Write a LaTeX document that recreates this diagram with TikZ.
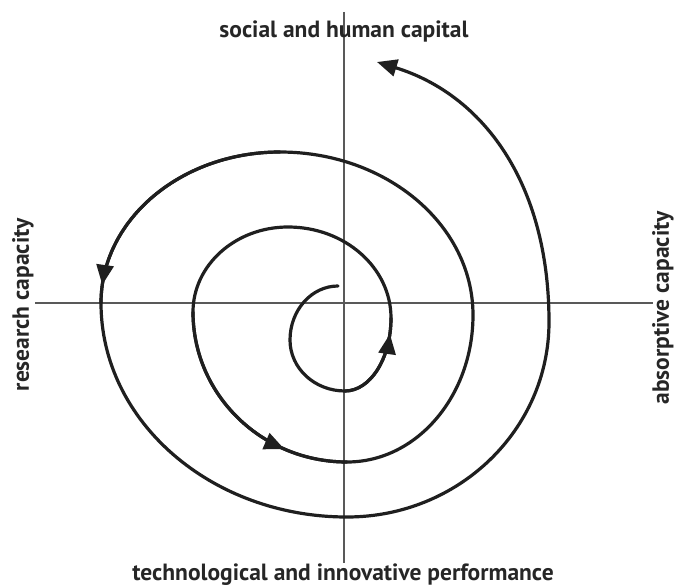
\documentclass[tikz,border=0pt]{standalone}
\usepackage{fontspec}
\setmainfont{PT Sans}
\usetikzlibrary{arrows.meta,decorations.markings}
\begin{document}
\begin{tikzpicture}[x=1pt,y=-1pt,
  spiral/.style={line width=3.2pt, draw=black!88, line join=round, line cap=round},
  axisline/.style={line width=1.1pt, draw=black!65},
  lbl/.style={font=\bfseries\fontsize{23.5}{26}\selectfont, text=black!85, inner sep=0pt},
  tipend/.style={-{Triangle[length=20pt,width=17pt]}},
  arrmark/.style={postaction={decorate, decoration={markings,
     mark=at position #1 with {\arrow{Triangle[length=20pt,width=17pt]}}}}}]
\useasboundingbox (0,0) rectangle (678,586);
% axes
\coordinate (vt) at (344,12);
\coordinate (vb) at (344,563);
\coordinate (hl) at (35,303);
\coordinate (hr) at (653,303);
\draw[axisline] (vt) -- (vb);
\draw[axisline] (hl) -- (hr);
% spiral key points
\coordinate (T0) at (338,286);
\coordinate (L0) at (290,340);
\coordinate (B0) at (345,391);
\coordinate (R0) at (391,318);
\coordinate (T1) at (288,227);
\coordinate (L1) at (193,312);
\coordinate (B1) at (347,462);
\coordinate (R1) at (473,315);
\coordinate (T2) at (280,152);
\coordinate (L2) at (101,303);
\coordinate (B2) at (347,517);
\coordinate (R2) at (549,322);
\coordinate (E) at (377,62);
\draw[spiral, tipend] (T0)
  .. controls (311.5,286) and (290,310.2) .. (L0)
  .. controls (290,368.2) and (314.6,391) .. (B0)
  .. controls (370.4,391) and (391,358.3) .. (R0)
  .. controls (391,267.7) and (344.9,227) .. (T1)
  .. controls (235.5,227) and (193,265.1) .. (L1)
  .. controls (193,394.8) and (261.9,462) .. (B1)
  .. controls (416.6,462) and (473,396.2) .. (R1)
  .. controls (473,225.0) and (386.6,152) .. (T2)
  .. controls (181.1,152) and (101,219.6) .. (L2)
  .. controls (101,421.2) and (211.1,517) .. (B2)
  .. controls (458.6,517) and (549,429.7) .. (R2)
  .. controls (549,182) and (482.2,94.3) .. (E);
% mid-path arrowheads
\draw[spiral, arrmark=0.83] (B0) .. controls (370.4,391) and (391,358.3) .. (R0);
\draw[spiral, arrmark=0.73] (L1) .. controls (193,394.8) and (261.9,462) .. (B1);
\draw[spiral, arrmark=0.93] (T2) .. controls (181.1,152) and (101,219.6) .. (L2);
% labels
\node[lbl] (top) at (344,31) {social and human capital};
\node[lbl] (bottom) at (343,575) {technological and innovative performance};
\node[lbl, rotate=90] (left) at (23,305) {research capacity};
\node[lbl, rotate=90] (right) at (663,308) {absorptive capacity};
\end{tikzpicture}
\end{document}
